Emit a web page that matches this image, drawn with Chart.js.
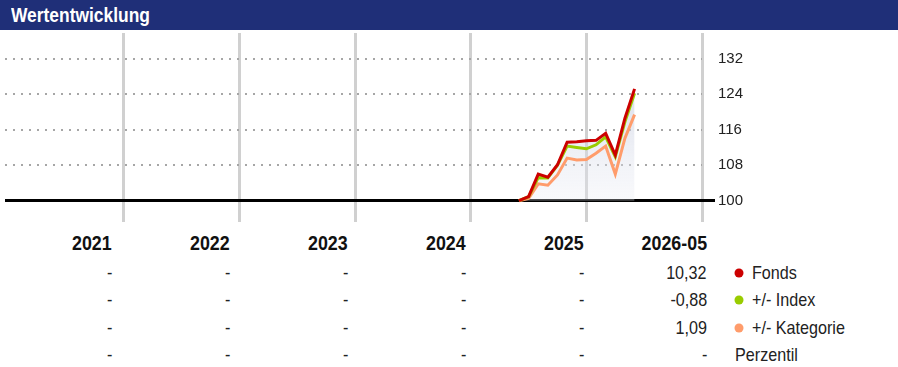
<!DOCTYPE html>
<html lang="de">
<head>
<meta charset="utf-8">
<title>Wertentwicklung</title>
<script src="https://cdn.jsdelivr.net/npm/chart.js@4"></script>
<style>
  html, body { margin: 0; padding: 0; background: #fff; }
  body { width: 898px; height: 367px; position: relative; overflow: hidden;
         font-family: "Liberation Sans", Arial, sans-serif; color: #1a1a1a; }
  .kopf { position: absolute; left: 0; top: 0; width: 898px; height: 30px; background: #1f2f78; }
  .kopf span { position: absolute; left: 11px; top: 0; color: #fff; font-weight: bold; font-size: 20px;
               line-height: 30px; transform: scaleX(0.87); transform-origin: left center; white-space: nowrap; }
  #chart { position: absolute; left: 0; top: 30px; }
  .zelle { position: absolute; white-space: nowrap; line-height: 1; }
  .rechts { transform: translateY(-50%) scaleX(0.85); transform-origin: right center; }
  .links { transform: translateY(-50%) scaleX(0.85); transform-origin: left center; }
  .jahr { font-weight: bold; font-size: 21px; color: #111; }
  .wert { font-size: 19px; color: #222; }
  .punkt { position: absolute; width: 9px; height: 9px; border-radius: 50%; transform: translate(-50%, -50%); }
</style>
</head>
<body>
<div class="kopf"><span>Wertentwicklung</span></div>
<canvas id="chart" width="898" height="195"></canvas>
<div id="tabelle"></div>
<script>
// Monatsenden Mai 2025 bis Mai 2026 (Monate seit Jan 2021)
const monate = [53, 54, 55, 56, 57, 58, 59, 60, 61, 62, 63, 64, 65];
const fonds     = [100, 100.9, 106.0, 105.3, 108.1, 113.2, 113.3, 113.5, 113.6, 115.2, 110.3, 118.6, 125.2];
const index     = [100, 100.9, 105.2, 105.1, 108.0, 112.3, 112.0, 111.7, 112.6, 114.4, 109.9, 117.8, 124.2];
const kategorie = [100, 100.5, 103.8, 103.5, 105.8, 109.6, 109.2, 109.3, 110.7, 112.3, 106.0, 114.1, 119.4];

const yTicks = [100, 108, 116, 124, 132];
const jahresGrenzen = [12, 24, 36, 48, 60, 72];

// Tabelle unter dem Chart
const jahre = ["2021", "2022", "2023", "2024", "2025", "2026-05"];
const zeilenFonds     = ["-", "-", "-", "-", "-", "10,32"];
const zeilenIndex     = ["-", "-", "-", "-", "-", "-0,88"];
const zeilenKategorie = ["-", "-", "-", "-", "-", "1,09"];
const zeilenPerzentil = ["-", "-", "-", "-", "-", "-"];
const legende = ["Fonds", "+/- Index", "+/- Kategorie", "Perzentil"];

const farben = { fonds: "#cc0000", index: "#99cc00", kategorie: "#ff9c6b" };

const pts = arr => arr.map((v, i) => ({ x: monate[i], y: v }));
const ist100 = c => c.tick && c.tick.value === 100;

const ctx = document.getElementById("chart");
new Chart(ctx, {
  type: "line",
  data: {
    datasets: [
      {
        label: "Fonds",
        data: pts(fonds),
        borderColor: farben.fonds,
        borderWidth: 3,
        pointRadius: 0,
        tension: 0,
        fill: { value: 100 },
        backgroundColor: c => {
          const area = c.chart.chartArea;
          if (!area) return "rgba(200,205,222,0.4)";
          const g = c.chart.ctx.createLinearGradient(0, area.top + 50, 0, area.bottom - 20);
          g.addColorStop(0, "rgba(190,197,218,0.6)");
          g.addColorStop(1, "rgba(235,237,244,0.3)");
          return g;
        }
      },
      { label: "+/- Index", data: pts(index), borderColor: farben.index, borderWidth: 3, pointRadius: 0, tension: 0, fill: false },
      { label: "+/- Kategorie", data: pts(kategorie), borderColor: farben.kategorie, borderWidth: 3, pointRadius: 0, tension: 0, fill: false }
    ]
  },
  options: {
    responsive: false,
    animation: false,
    devicePixelRatio: 1,
    layout: { padding: { left: 5, top: 3, bottom: 3, right: 0 } },
    plugins: {
      legend: { display: false },
      tooltip: { enabled: false },
      filler: { drawTime: "beforeDatasetsDraw" }
    },
    scales: {
      x: {
        type: "linear",
        min: -0.35,
        max: 72,
        afterBuildTicks: s => { s.ticks = jahresGrenzen.map(v => ({ value: v })); },
        afterFit: s => { s.height = 0; s.paddingLeft = 0; s.paddingRight = 0; },
        ticks: { display: false },
        border: { display: false },
        grid: { color: "#d0d0d0", lineWidth: 3, drawTicks: false }
      },
      y: {
        position: "right",
        min: 95.2,
        max: 137.8,
        afterBuildTicks: s => { s.ticks = yTicks.map(v => ({ value: v })); },
        afterFit: s => { s.width = 196; s.paddingTop = 0; s.paddingBottom = 0; },
        ticks: {
          padding: 3,
          color: "#222",
          font: { family: "'Liberation Sans', Arial, sans-serif", size: 15 }
        },
        border: {
          display: false,
          dash: c => (ist100(c) ? [] : [2, 6])
        },
        grid: {
          color: c => (ist100(c) ? "#000" : "#a6a6a6"),
          lineWidth: c => (ist100(c) ? 3 : 2),
          drawTicks: true,
          tickLength: 13,
          tickWidth: 3,
          tickColor: c => (ist100(c) ? "#000" : "rgba(0,0,0,0)")
        }
      }
    }
  }
});

// Tabelle aufbauen
const tab = document.getElementById("tabelle");
const spaltenRechts = [112, 230, 348, 466, 584, 707];
const zeilenY = [271.5, 299, 326.7, 354.3];

function zelle(text, cls, rechts, y) {
  const d = document.createElement("div");
  d.className = "zelle rechts " + cls;
  d.textContent = text;
  d.style.right = (898 - rechts) + "px";
  d.style.top = y + "px";
  tab.appendChild(d);
}

jahre.forEach((j, i) => zelle(j, "jahr", spaltenRechts[i], 242));
[zeilenFonds, zeilenIndex, zeilenKategorie, zeilenPerzentil].forEach((zeile, r) => {
  zeile.forEach((w, i) => zelle(w, "wert", spaltenRechts[i], zeilenY[r]));
});

const punktFarben = [farben.fonds, farben.index, farben.kategorie, null];
legende.forEach((name, r) => {
  const t = document.createElement("div");
  t.className = "zelle links wert";
  t.textContent = name;
  t.style.left = (punktFarben[r] ? 752 : 735) + "px";
  t.style.top = zeilenY[r] + "px";
  tab.appendChild(t);
  if (punktFarben[r]) {
    const p = document.createElement("div");
    p.className = "punkt";
    p.style.left = "739px";
    p.style.top = (zeilenY[r] + 1) + "px";
    p.style.background = punktFarben[r];
    tab.appendChild(p);
  }
});
</script>
</body>
</html>
